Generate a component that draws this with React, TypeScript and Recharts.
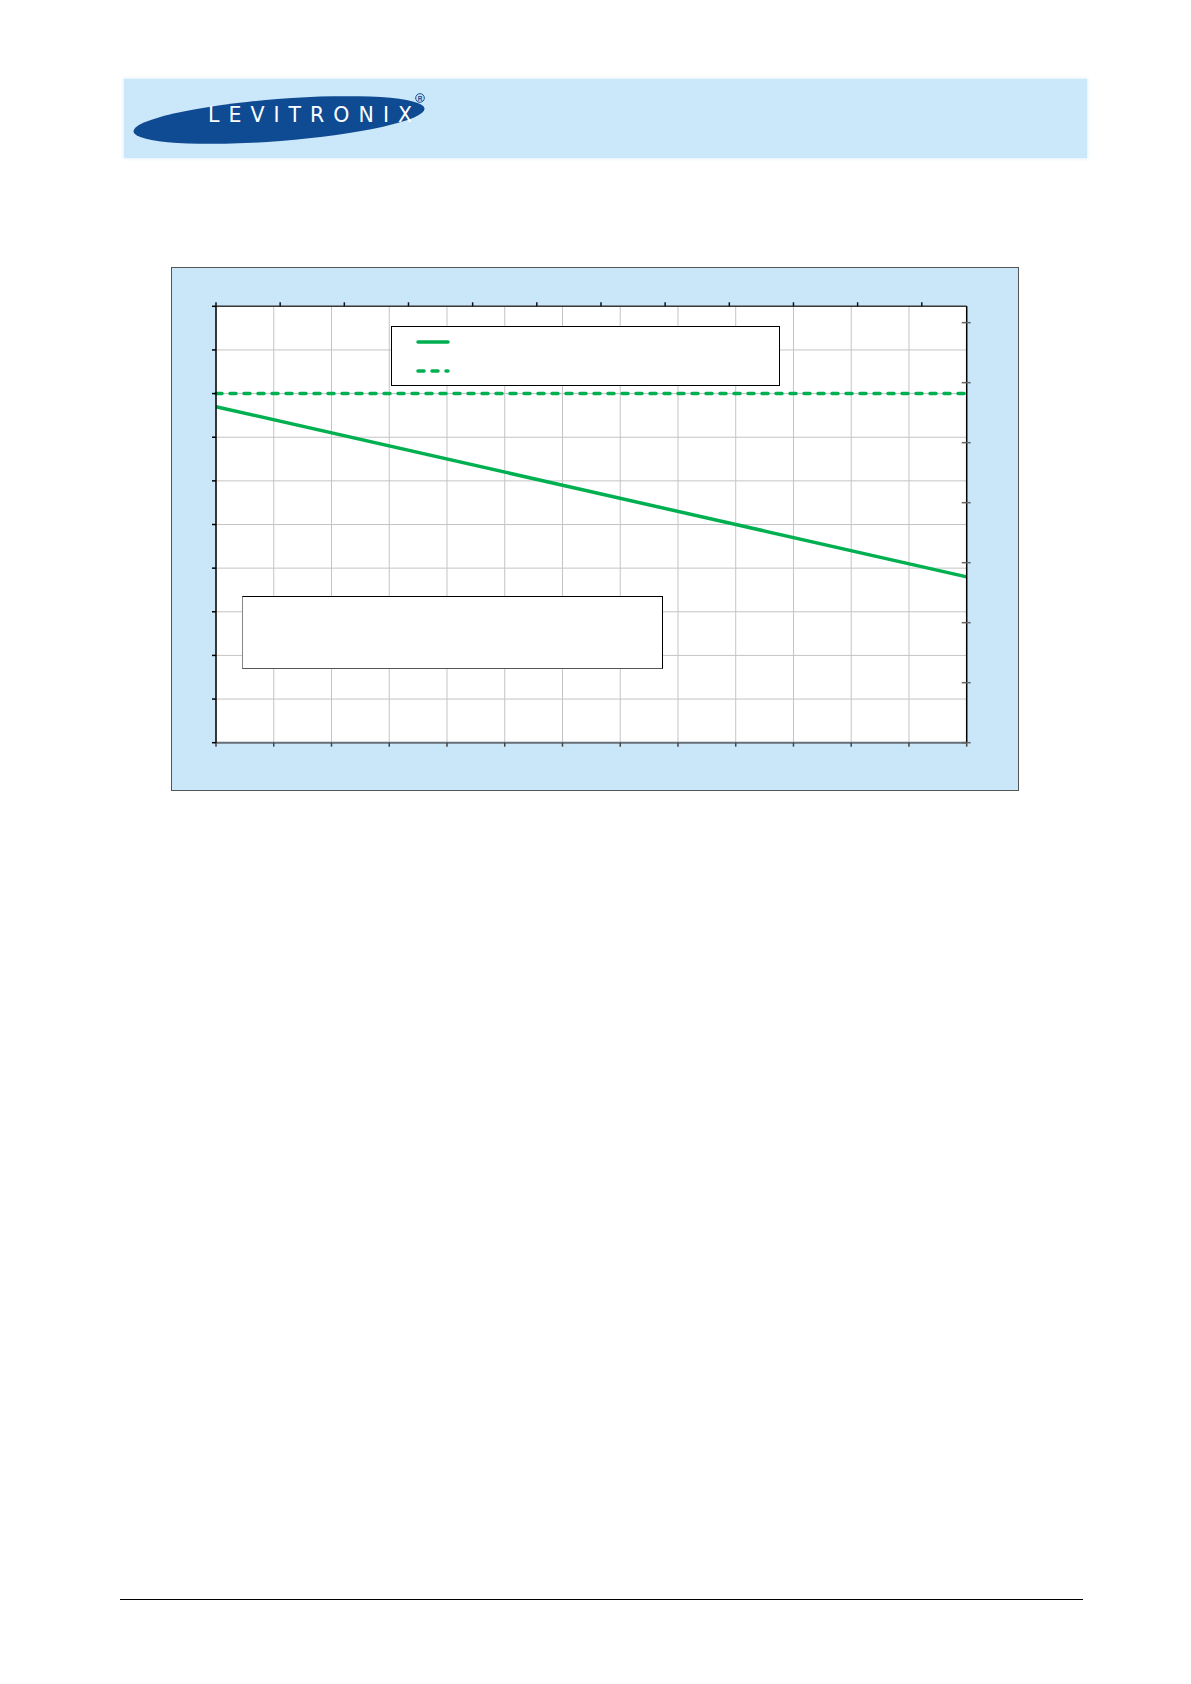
import React from "react"
import {
    LineChart,
    Line,
    XAxis,
    YAxis,
    CartesianGrid,
    Legend,
} from "recharts"

const flow = [0, 13]
const pressure = [7.7, 3.8]
const maxPressure = [8, 8]

const flowTicks = [0, 1, 2, 3, 4, 5, 6, 7, 8, 9, 10, 11, 12, 13]
const topTicks = [0, 1, 2, 3, 4, 5, 6, 7, 8, 9, 10, 11]
const leftTicks = [0, 1, 2, 3, 4, 5, 6, 7, 8, 9, 10]
const rightTicks = [0, 1, 2, 3, 4, 5, 6, 7]

const seriesOrder = ["pressure", "maxPressure"]

const GREEN = "#00B050"
const PANEL = "#C9E7F9"

const data = flow.map((f, i) => ({ flow: f, pressure: pressure[i], maxPressure: maxPressure[i] }))

// no tick labels in the original, only the tick marks
const NoLabel = () => <g />

function LegendBox({ payload }: any) {
    const items = [...(payload || [])].sort((a: any, b: any) => seriesOrder.indexOf(a.dataKey) - seriesOrder.indexOf(b.dataKey))
    return (
        <div style={{ width: 389, height: 60, boxSizing: "border-box", border: "1px solid #000", background: "#fff" }}>
            <svg width={387} height={58} style={{ display: "block" }}>
                {items.map((p: any, i: number) => (
                    <line
                        key={p.value}
                        x1={26}
                        x2={56}
                        y1={15 + i * 29}
                        y2={15 + i * 29}
                        stroke={p.color}
                        strokeWidth={3.5}
                        strokeLinecap="round"
                        strokeDasharray={p.payload?.strokeDasharray}
                    />
                ))}
            </svg>
        </div>
    )
}

function Logo() {
    return (
        <svg width={360} height={80} style={{ position: "absolute", left: 124, top: 79 }}>
            <ellipse cx={155} cy={41} rx={146} ry={21} fill="#0E4B92" transform="rotate(-4.5 155 41)" />
            <text x={84} y={43} fill="#fff" fontFamily="DejaVu Sans, sans-serif" fontSize={20.5} textLength={204} lengthAdjust="spacing">
                LEVITRONIX
            </text>
            <circle cx={296} cy={19} r={4.3} fill="none" stroke="#0E4B92" strokeWidth={1} />
            <text x={296} y={21.5} fill="#0E4B92" fontFamily="Liberation Sans, Arial, sans-serif" fontSize={6.5} fontWeight="bold" textAnchor="middle">
                R
            </text>
        </svg>
    )
}

export default function App() {
    return (
        <div style={{ position: "absolute", left: 0, top: 0, width: 1191, height: 1684, background: "#fff" }}>
            {/* header band */}
            <div style={{ position: "absolute", left: 124, top: 79, width: 963, height: 79, background: "#CBE7FA", boxShadow: "0 0 3px 1px #E2F1FC" }} />
            <Logo />

            {/* chart panel */}
            <div style={{ position: "absolute", left: 171, top: 267, width: 848, height: 524, boxSizing: "border-box", border: "1px solid #555", background: PANEL }} />
            <div style={{ position: "absolute", left: 172, top: 267 }}>
                <LineChart width={847} height={524} data={data} margin={{ top: 29.3, right: 42.3, left: 34, bottom: 38.3 }}>
                    <CartesianGrid fill="#fff" stroke="#C4C4C4" strokeWidth={1} />
                    <XAxis dataKey="flow" type="number" domain={[0, 13]} ticks={flowTicks} tick={NoLabel} height={10} interval={0}
                        axisLine={{ stroke: "#66707A", strokeWidth: 2 }} tickLine={{ stroke: "#444", strokeWidth: 1.5 }} tickSize={4} />
                    <XAxis xAxisId="top" dataKey="flow" orientation="top" type="number" domain={[0, 11.7]} ticks={topTicks} allowDataOverflow tick={NoLabel} height={10} interval={0}
                        axisLine={{ stroke: "#3A3A3A", strokeWidth: 1.5 }} tickLine={{ stroke: "#111", strokeWidth: 1.5 }} tickSize={4} />
                    <YAxis type="number" domain={[0, 10]} ticks={leftTicks} tick={NoLabel} width={10} interval={0}
                        axisLine={{ stroke: "#000", strokeWidth: 1.5 }} tickLine={{ stroke: "#000", strokeWidth: 1.5 }} tickSize={4} />
                    <YAxis yAxisId="right" orientation="right" type="number" domain={[0, 80 / 11]} ticks={rightTicks} allowDataOverflow tick={NoLabel} width={10} interval={0}
                        axisLine={{ stroke: "#000", strokeWidth: 1.5 }} tickLine={{ stroke: "#666", strokeWidth: 1.5 }} tickSize={4} />
                    <YAxis yAxisId="rightIn" orientation="right" mirror type="number" domain={[0, 80 / 11]} ticks={rightTicks} allowDataOverflow tick={NoLabel} interval={0}
                        axisLine={false} tickLine={{ stroke: "#666", strokeWidth: 1.5 }} tickSize={5} />
                    <Legend
                        layout="horizontal"
                        verticalAlign="middle"
                        align="center"
                        wrapperStyle={{ position: "absolute", left: 218.7, top: 59, width: 389, height: 60 }}
                        content={<LegendBox />}
                    />
                    <Line name="pressure" dataKey="pressure" stroke={GREEN} strokeWidth={3.5} dot={false} isAnimationActive={false} />
                    <Line name="max. pressure" dataKey="maxPressure" stroke={GREEN} strokeWidth={3.5} strokeDasharray="6 8" strokeLinecap="round" dot={false} isAnimationActive={false} />
                </LineChart>
            </div>

            {/* empty text box */}
            <div style={{ position: "absolute", left: 241.7, top: 596.3, width: 421.6, height: 73, boxSizing: "border-box", border: "1px solid #000", borderLeftColor: "#888", borderBottomColor: "#555", background: "#fff" }} />

            {/* footer rule */}
            <div style={{ position: "absolute", left: 120, top: 1598.5, width: 963, height: 1.5, background: "#000" }} />
        </div>
    )
}
